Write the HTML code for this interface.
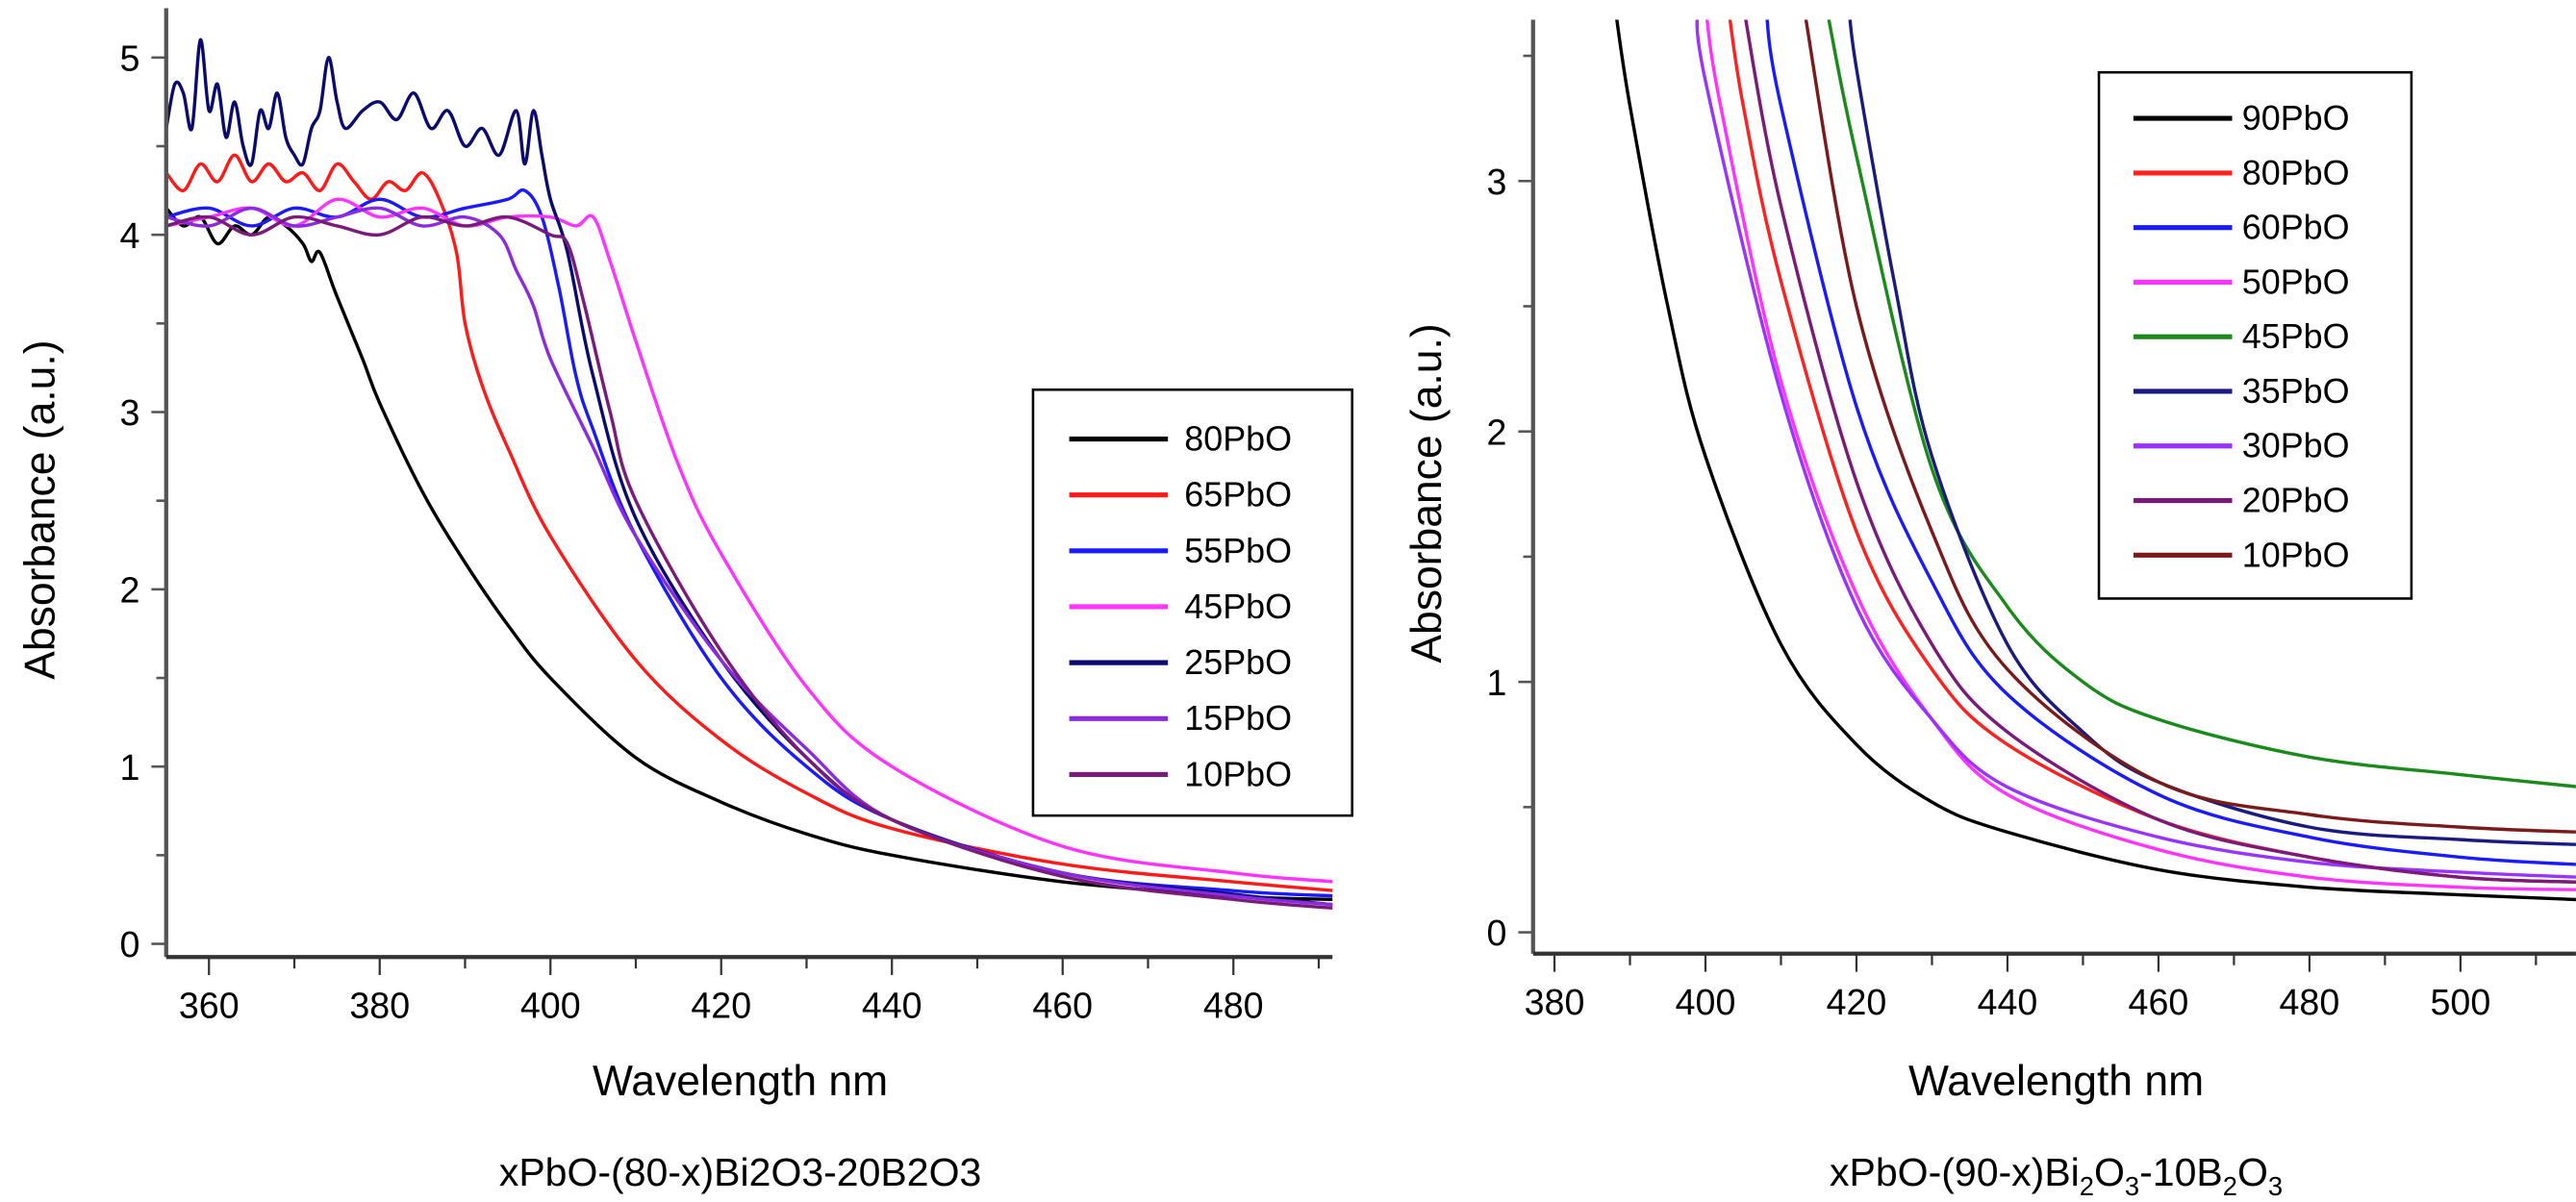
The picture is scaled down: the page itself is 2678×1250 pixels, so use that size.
<!DOCTYPE html>
<html><head><meta charset="utf-8">
<style>
html,body{margin:0;padding:0;background:#fff;}
svg{display:block;font-family:"Liberation Sans",Arial,sans-serif;}
</style></head>
<body>
<svg id="fig" width="2678" height="1250" viewBox="0 0 1566 731" xmlns="http://www.w3.org/2000/svg">
<g id="left"></g>
<g id="right"></g>
<text x="450" y="666" font-size="26" text-anchor="middle">Wavelength nm</text>
<text x="1250" y="666" font-size="26" text-anchor="middle">Wavelength nm</text>
<text x="450" y="721" font-size="24" text-anchor="middle">xPbO-(80-x)Bi2O3-20B2O3</text>
<text x="1250" y="721" font-size="24" text-anchor="middle">xPbO-(90-x)Bi<tspan font-size="16" dy="6">2</tspan><tspan dy="-6">O</tspan><tspan font-size="16" dy="6">3</tspan><tspan dy="-6">-10B</tspan><tspan font-size="16" dy="6">2</tspan><tspan dy="-6">O</tspan><tspan font-size="16" dy="6">3</tspan></text>
<text transform="translate(33,310) rotate(-90)" font-size="26" text-anchor="middle">Absorbance (a.u.)</text>
<text transform="translate(876,300) rotate(-90)" font-size="26" text-anchor="middle">Absorbance (a.u.)</text>
</svg>
<script>
// ---------- Left chart data ----------
const leftNames = ["80PbO","65PbO","55PbO","45PbO","25PbO","15PbO","10PbO"];
const leftColors = ["#000000","#ff1a1a","#1a1aff","#ff33ff","#0a0a70","#8a2be2","#7a1a7a"];
const leftX80 = [355,357,359,361,363,365,367,369,371,372,373,375,378,380,385,390,395,400,410,420,430,440,460,480,492];
const leftY80 = [4.15,4.05,4.1,3.95,4.05,4.0,4.1,4.05,3.95,3.85,3.9,3.65,3.3,3.05,2.55,2.15,1.8,1.5,1.05,0.8,0.62,0.5,0.35,0.27,0.25];
const leftX65 = [355,357,359,361,363,365,367,369,371,373,375,377,379,381,383,385,387,389,390,392,395,400,410,420,430,440,460,480,492];
const leftY65 = [4.35,4.25,4.4,4.3,4.45,4.3,4.4,4.3,4.35,4.25,4.4,4.3,4.2,4.3,4.25,4.35,4.2,3.9,3.5,3.15,2.8,2.3,1.6,1.15,0.85,0.65,0.45,0.35,0.3];
const leftX55 = [355,360,365,370,375,380,385,390,395,397,399,401,403,405,410,420,430,440,460,480,492];
const leftY55 = [4.1,4.15,4.05,4.15,4.1,4.2,4.1,4.15,4.2,4.25,4.1,3.7,3.2,2.9,2.3,1.5,1.0,0.7,0.4,0.3,0.27];
const leftX45 = [355,360,365,370,375,380,385,390,395,400,403,405,407,410,415,420,430,440,460,480,492];
const leftY45 = [4.05,4.1,4.15,4.05,4.2,4.1,4.15,4.05,4.1,4.1,4.05,4.1,3.85,3.4,2.7,2.2,1.45,1.0,0.55,0.4,0.35];
const leftX25 = [355,356,357,358,359,360,361,362,363,364,365,366,367,368,369,370,371,372,373,374,375,376,378,380,382,384,386,388,390,392,394,396,397,398,399,400,402,405,410,420,430,440,460,480,492];
const leftY25 = [4.6,4.85,4.8,4.6,5.1,4.7,4.85,4.55,4.75,4.5,4.4,4.7,4.6,4.8,4.55,4.45,4.4,4.6,4.7,5.0,4.75,4.6,4.7,4.75,4.65,4.8,4.6,4.7,4.5,4.6,4.45,4.7,4.4,4.7,4.45,4.2,3.9,3.2,2.4,1.6,1.05,0.7,0.4,0.28,0.22];
const leftX15 = [355,360,365,370,375,380,385,390,394,396,398,400,405,410,420,430,440,460,480,492];
const leftY15 = [4.1,4.05,4.15,4.05,4.1,4.15,4.05,4.1,4.0,3.8,3.6,3.3,2.8,2.3,1.6,1.1,0.7,0.4,0.27,0.22];
const leftX10 = [355,360,365,370,375,380,385,390,395,400,402,404,407,410,420,430,440,460,480,492];
const leftY10 = [4.05,4.1,4.0,4.1,4.05,4.0,4.1,4.05,4.1,4.0,3.95,3.6,3.0,2.5,1.65,1.05,0.7,0.38,0.25,0.2];
const leftXs = [leftX80,leftX65,leftX55,leftX45,leftX25,leftX15,leftX10];
const leftYs = [leftY80,leftY65,leftY55,leftY45,leftY25,leftY15,leftY10];
const leftXTicks = [360,380,400,420,440,460,480];
const leftYTicks = [0,1,2,3,4,5];

// ---------- Right chart data ----------
const rightNames = ["90PbO","80PbO","60PbO","50PbO","45PbO","35PbO","30PbO","20PbO","10PbO"];
const rightColors = ["#000000","#ff2020","#1a1aff","#ff33ff","#1a8a1a","#1a1a80","#9933ff","#7a1a7a","#7a1a1a"];
const rightX90 = [388,390,395,400,410,420,430,440,460,480,500,516];
const rightY90 = [3.7,3.3,2.5,1.9,1.15,0.75,0.52,0.4,0.25,0.18,0.15,0.13];
const rightX80 = [403,405,410,420,430,440,460,480,500,516];
const rightY80 = [3.7,3.3,2.6,1.6,1.05,0.75,0.45,0.3,0.22,0.2];
const rightX60 = [408,410,420,430,440,460,480,500,516];
const rightY60 = [3.7,3.3,2.1,1.4,0.95,0.55,0.38,0.3,0.27];
const rightX50 = [400,402,410,420,430,440,460,480,500,516];
const rightY50 = [3.7,3.3,2.2,1.35,0.85,0.55,0.33,0.22,0.18,0.17];
const rightX45 = [416,420,430,440,450,460,480,500,516];
const rightY45 = [3.7,3.1,1.85,1.3,1.0,0.85,0.7,0.63,0.58];
const rightX35 = [419,420,425,430,440,450,460,480,500,516];
const rightY35 = [3.7,3.45,2.6,1.9,1.15,0.8,0.6,0.42,0.37,0.35];
const rightX30 = [399,400,410,420,430,440,460,480,500,516];
const rightY30 = [3.7,3.4,2.15,1.3,0.85,0.58,0.38,0.28,0.24,0.22];
const rightX20 = [405,410,420,430,440,460,480,500,516];
const rightY20 = [3.7,2.9,1.8,1.15,0.8,0.45,0.3,0.22,0.2];
const rightX10 = [413,420,430,440,460,480,500,516];
const rightY10 = [3.7,2.5,1.6,1.05,0.6,0.47,0.42,0.4];
const rightXs = [rightX90,rightX80,rightX60,rightX50,rightX45,rightX35,rightX30,rightX20,rightX10];
const rightYs = [rightY90,rightY80,rightY60,rightY50,rightY45,rightY35,rightY30,rightY20,rightY10];
const rightXTicks = [380,400,420,440,460,480,500];
const rightYTicks = [0,1,2,3];

const NS = "http://www.w3.org/2000/svg";
function mk(tag, attrs, parent){
  const e = document.createElementNS(NS, tag);
  for (const k in attrs) e.setAttribute(k, attrs[k]);
  parent.appendChild(e); return e;
}
function smoothPath(pts){
  let d = "M"+pts[0][0].toFixed(1)+","+pts[0][1].toFixed(1);
  for (let i=0;i<pts.length-1;i++){
    const p0=pts[Math.max(i-1,0)], p1=pts[i], p2=pts[i+1], p3=pts[Math.min(i+2,pts.length-1)];
    const c1=[p1[0]+(p2[0]-p0[0])/6, p1[1]+(p2[1]-p0[1])/6];
    const c2=[p2[0]-(p3[0]-p1[0])/6, p2[1]-(p3[1]-p1[1])/6];
    d += " C"+c1[0].toFixed(1)+","+c1[1].toFixed(1)+" "+c2[0].toFixed(1)+","+c2[1].toFixed(1)+" "+p2[0].toFixed(1)+","+p2[1].toFixed(1);
  }
  return d;
}

function drawChart(cfg){
  const g = document.getElementById(cfg.id);
  const sx = v => cfg.x0px + (v - cfg.x0v) * cfg.xs;
  const sy = v => cfg.y0px - v * cfg.ys;
  const clipId = cfg.id + "-clip";
  const defs = mk("defs", {}, g);
  const cp = mk("clipPath", {id: clipId}, defs);
  mk("rect", {x: cfg.axX, y: cfg.top, width: cfg.right - cfg.axX, height: cfg.axY - cfg.top}, cp);
  const lines = mk("g", {"clip-path": "url(#"+clipId+")"}, g);
  for (let s=0; s<cfg.xs_.length; s++){
    const pts = cfg.xs_[s].map((x,i)=>[sx(x), sy(cfg.ys_[s][i])]);
    const p = mk("path", {d: smoothPath(pts), fill: "none", stroke: cfg.colors[s], "stroke-width": 2, "stroke-linejoin": "round"}, lines);
    
    
  }
  const ya = mk("line", {x1: cfg.axX, y1: cfg.top, x2: cfg.axX, y2: cfg.axY, stroke: "#555", "stroke-width": 2.5}, g);
  
  
  const xa = mk("line", {x1: cfg.axX, y1: cfg.axY, x2: cfg.right, y2: cfg.axY, stroke: "#333", "stroke-width": 2.5}, g);
  
  
  cfg.xTicks.forEach((t,i)=>{
    mk("line", {x1: sx(t), y1: cfg.axY, x2: sx(t), y2: cfg.axY+11, stroke: "#333", "stroke-width": 1.3}, g);
    const m = t + 10;
    if (sx(m) < cfg.right) mk("line", {x1: sx(m), y1: cfg.axY, x2: sx(m), y2: cfg.axY+7, stroke: "#333", "stroke-width": 1.3}, g);
    const tx = mk("text", {x: sx(t), y: cfg.axY+37, "font-size": 22, "text-anchor": "middle"}, g);
    tx.textContent = t;
    
    
  });
  cfg.yTicks.forEach(t=>{
    mk("line", {x1: cfg.axX-9, y1: sy(t), x2: cfg.axX, y2: sy(t), stroke: "#555", "stroke-width": 1.5}, g);
    if (sy(t+0.5) > cfg.top) mk("line", {x1: cfg.axX-6, y1: sy(t+0.5), x2: cfg.axX, y2: sy(t+0.5), stroke: "#555", "stroke-width": 1.5}, g);
    const ty = mk("text", {x: cfg.axX-16, y: sy(t)+8, "font-size": 22, "text-anchor": "end"}, g);
    ty.textContent = t;
    
    
  });
  const L = cfg.legend;
  const lg = mk("g", {}, g);
  
  
  mk("rect", {x: L.x, y: L.y, width: L.w, height: L.h, fill: "#fff", stroke: "#000", "stroke-width": 1.5}, lg);
  cfg.names.forEach((n,i)=>{
    const yy = L.y0 + i*L.dy;
    const e = mk("g", {}, lg);
    
    
    mk("line", {x1: L.lx1, y1: yy, x2: L.lx2, y2: yy, stroke: cfg.colors[i], "stroke-width": 3}, e);
    const t = mk("text", {x: L.tx, y: yy+7, "font-size": 21}, e);
    t.textContent = n;
  });
}

drawChart({id:"left", names:leftNames, colors:leftColors, xs_:leftXs, ys_:leftYs,
  xTicks:leftXTicks, yTicks:leftYTicks,
  x0v:360, x0px:127, xs:5.19, y0px:574, ys:107.8,
  axX:101, axY:582, top:5, right:810,
  legend:{x:628,y:237,w:194,h:259,y0:267,dy:34,lx1:650,lx2:710,tx:720}});
drawChart({id:"right", names:rightNames, colors:rightColors, xs_:rightXs, ys_:rightYs,
  xTicks:rightXTicks, yTicks:rightYTicks,
  x0v:380, x0px:945, xs:4.59, y0px:567, ys:152.3,
  axX:932, axY:580, top:12, right:1566,
  legend:{x:1276,y:44,w:190,h:320,y0:72,dy:33.2,lx1:1297,lx2:1357,tx:1363}});
</script>
</body></html>
